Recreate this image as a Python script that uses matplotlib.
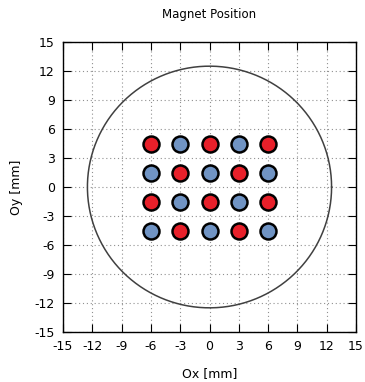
import numpy as np
import matplotlib.pyplot as plt

plt.rcParams['axes.unicode_minus'] = False

# magnet grid positions (mm) and polarity (1 = north/red, 0 = south/blue)
x_pos = [-6, -3, 0, 3, 6]
y_pos = [4.5, 1.5, -1.5, -4.5]
polarity = [
    [1, 0, 1, 0, 1],
    [0, 1, 0, 1, 0],
    [1, 0, 1, 0, 1],
    [0, 1, 0, 1, 0],
]
bore_radius = 12.5
ticks = list(range(-15, 16, 3))

fig = plt.figure(figsize=(3.65, 3.82), dpi=100)
ax = fig.add_axes([63 / 365, 1 - 332 / 382, 293 / 365, 290 / 382])

theta = np.linspace(0, 2 * np.pi, 400)
ax.plot(bore_radius * np.cos(theta), bore_radius * np.sin(theta),
        color='#404040', lw=1.1, zorder=2)

colors = {1: '#e8202a', 0: '#7094c4'}
for j, y in enumerate(y_pos):
    for i, x in enumerate(x_pos):
        ax.plot(x, y, 'o', ms=11.5, mfc=colors[polarity[j][i]],
                mec='black', mew=1.8, zorder=3)

ax.set_xlim(-15, 15)
ax.set_ylim(-15, 15)
ax.set_xticks(ticks)
ax.set_yticks(ticks)
ax.grid(True, linestyle=(0, (1, 2.5)), color='#909090', lw=0.8)
ax.set_axisbelow(True)
ax.tick_params(direction='in', top=True, right=True, length=6,
               labelsize=9, colors='black', pad=6)
for s in ax.spines.values():
    s.set_linewidth(1.0)

ax.set_title('Magnet Position', fontsize=8.5, pad=17)
ax.set_xlabel('Ox [mm]', fontsize=9, labelpad=10)
ax.set_ylabel('Oy [mm]', fontsize=9, labelpad=8)

fig.savefig('out.png', dpi=100)
